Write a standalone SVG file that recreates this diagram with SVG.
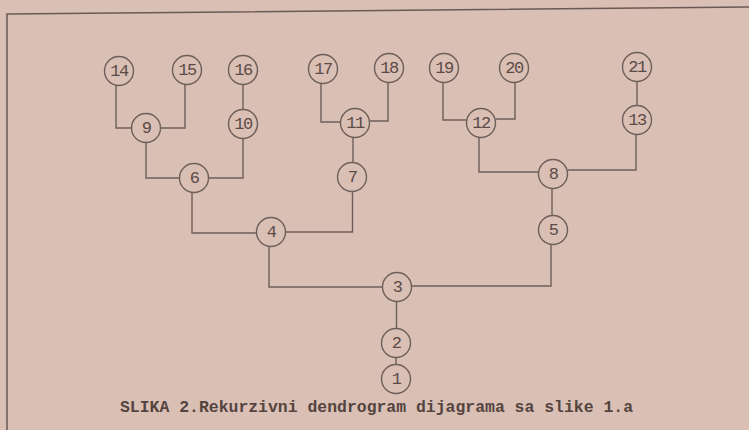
<svg xmlns="http://www.w3.org/2000/svg" width="749" height="430" viewBox="0 0 749 430">
<style>
.bg{fill:#dabfb4}
.n circle{fill:#dabfb4;stroke:#6e5f5a;stroke-width:1.4}
.n text{font-family:"Liberation Mono",monospace;font-size:17px;fill:#5a4b47;text-anchor:middle;dominant-baseline:central;letter-spacing:-1.5px}
#edges path{fill:none;stroke:#6e5f5a;stroke-width:1.4}
.frame{fill:none;stroke:#6a5a55;stroke-width:1.5}
.cap{font-family:"Liberation Mono",monospace;font-size:16.5px;font-weight:bold;fill:#54443f}
</style>
<rect class="bg" x="0" y="0" width="749" height="430"/>
<path class="frame" d="M7,430 V14 L749,7"/>
<g id="edges">
<path d="M116,85 V128 H132"/>
<path d="M185,84 V128 H160.5"/>
<path d="M243,84.5 V109.5"/>
<path d="M146,142.5 V178 H179.5"/>
<path d="M243,138.5 V178 H208.5"/>
<path d="M321,83.5 V122 H340.5"/>
<path d="M388,82.5 V121 H369.5"/>
<path d="M353,137.5 V162.5"/>
<path d="M443,82.5 V120 H466.5"/>
<path d="M515,82.5 V119 H495.5"/>
<path d="M637,81.5 V105.5"/>
<path d="M479,137 V172 H538.5"/>
<path d="M636,134.5 V170 H567.5"/>
<path d="M552,188.5 V215.5"/>
<path d="M192,192 V233 H256.5"/>
<path d="M352.5,191.5 V232 H285.5"/>
<path d="M269,246.5 V287 H382.5"/>
<path d="M551,244.5 V286 H411.5"/>
<path d="M396.5,301.5 V328.5"/>
<path d="M396,357.5 V364.5"/>
</g>
<g id="n14" class="n"><circle cx="119" cy="71" r="14.5"/><text x="119" y="71">14</text></g>
<g id="n15" class="n"><circle cx="187" cy="70" r="14.5"/><text x="187" y="70">15</text></g>
<g id="n16" class="n"><circle cx="243" cy="70" r="14.5"/><text x="243" y="70">16</text></g>
<g id="n17" class="n"><circle cx="323" cy="69" r="14.5"/><text x="323" y="69">17</text></g>
<g id="n18" class="n"><circle cx="389" cy="68" r="14.5"/><text x="389" y="68">18</text></g>
<g id="n19" class="n"><circle cx="444" cy="68" r="14.5"/><text x="444" y="68">19</text></g>
<g id="n20" class="n"><circle cx="514" cy="68" r="14.5"/><text x="514" y="68">20</text></g>
<g id="n21" class="n"><circle cx="637" cy="67" r="14.5"/><text x="637" y="67">21</text></g>
<g id="n9" class="n"><circle cx="146" cy="128" r="14.5"/><text x="146" y="128">9</text></g>
<g id="n10" class="n"><circle cx="243" cy="124" r="14.5"/><text x="243" y="124">10</text></g>
<g id="n11" class="n"><circle cx="355" cy="123" r="14.5"/><text x="355" y="123">11</text></g>
<g id="n12" class="n"><circle cx="481" cy="123" r="14.5"/><text x="481" y="123">12</text></g>
<g id="n13" class="n"><circle cx="637" cy="120" r="14.5"/><text x="637" y="120">13</text></g>
<g id="n6" class="n"><circle cx="194" cy="178" r="14.5"/><text x="194" y="178">6</text></g>
<g id="n7" class="n"><circle cx="352" cy="177" r="14.5"/><text x="352" y="177">7</text></g>
<g id="n8" class="n"><circle cx="553" cy="174" r="14.5"/><text x="553" y="174">8</text></g>
<g id="n4" class="n"><circle cx="271" cy="232" r="14.5"/><text x="271" y="232">4</text></g>
<g id="n5" class="n"><circle cx="553" cy="230" r="14.5"/><text x="553" y="230">5</text></g>
<g id="n3" class="n"><circle cx="397" cy="287" r="14.5"/><text x="397" y="287">3</text></g>
<g id="n2" class="n"><circle cx="396" cy="343" r="14.5"/><text x="396" y="343">2</text></g>
<g id="n1" class="n"><circle cx="396" cy="379" r="14.5"/><text x="396" y="379">1</text></g>
<text class="cap" x="120" y="412" textLength="513" lengthAdjust="spacingAndGlyphs">SLIKA 2.Rekurzivni dendrogram dijagrama sa slike 1.a</text>
</svg>
